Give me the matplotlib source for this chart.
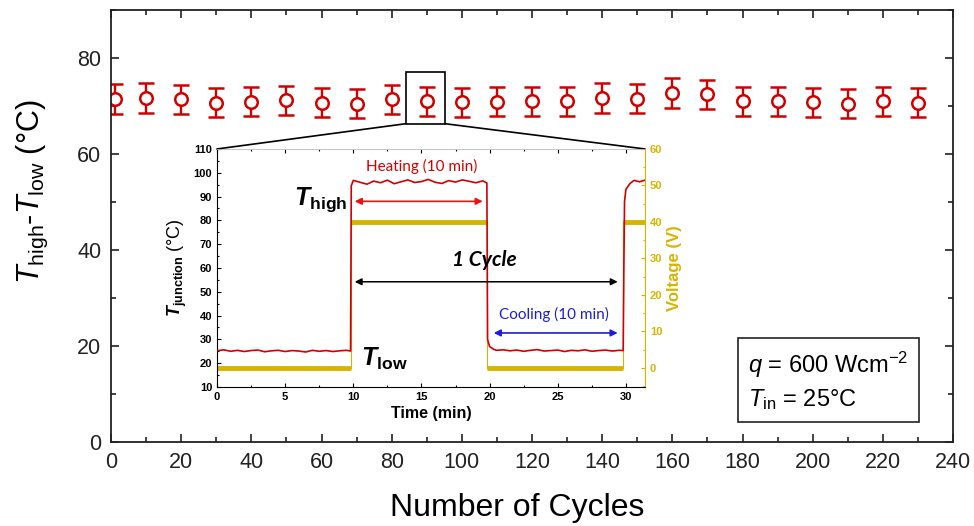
import matplotlib
matplotlib.use("Agg")
import matplotlib.pyplot as plt
from matplotlib.patches import Rectangle, ConnectionPatch
from matplotlib.ticker import MultipleLocator

# Main data: temperature difference vs number of cycles
cycles = [1, 10, 20, 30, 40, 50, 60, 70, 80, 90, 100, 110, 120, 130, 140, 150,
          160, 170, 180, 190, 200, 210, 220, 230]
delta_t = [71.4, 71.7, 71.4, 70.7, 70.9, 71.2, 70.7, 70.5, 71.4, 71.0, 70.8, 70.9,
           71.0, 71.0, 71.6, 71.5, 72.7, 72.4, 71.0, 71.0, 70.8, 70.5, 71.0, 70.7]
delta_t_err = [3.1, 3.1, 3.0, 3.1, 3.0, 3.0, 3.0, 3.1, 3.0, 3.0, 3.0, 3.0,
               3.0, 3.0, 3.1, 3.0, 3.1, 3.1, 3.0, 3.0, 3.0, 3.1, 3.0, 3.0]

# Inset data: junction temperature over one cycle
time_min = [0, 0.5, 1, 1.5, 2, 2.5, 3, 3.5, 4, 4.5, 5, 5.5, 6, 6.5, 7, 7.5, 8, 8.5, 9, 9.5, 9.8,
            9.85, 10, 10.5, 11, 11.5, 12, 12.5, 13, 13.5, 14, 14.5, 15, 15.5, 16, 16.5, 17, 17.5,
            18, 18.5, 19, 19.5, 19.8,
            19.85, 20.0, 20.3, 20.5, 21, 21.5, 22, 22.5, 23, 23.5, 24, 24.5, 25, 25.5, 26, 26.5,
            27, 27.5, 28, 28.5, 29, 29.5, 29.8,
            29.85, 29.9, 30.0, 30.3, 30.6, 31.0, 31.4]
t_junction = [25.2, 25.6, 25.0, 25.4, 24.9, 25.3, 25.5, 24.8, 25.2, 25.4, 24.9, 25.3, 25.1, 24.7,
              25.4, 25.0, 25.3, 24.9, 25.2, 25.4, 25.1,
              94.5, 96.8, 96.0, 95.2, 96.5, 95.8, 96.9, 95.4, 96.2, 97.0, 95.9, 96.3, 97.2, 96.0,
              95.5, 96.7, 96.1, 97.0, 96.4, 95.8, 96.6, 95.7,
              30.0, 27.0, 25.8, 25.4, 25.6, 25.2, 25.5, 25.0, 25.4, 25.7, 25.1, 25.3, 25.5, 24.9,
              25.4, 25.2, 25.6, 25.0, 25.3, 25.5, 25.1, 25.4, 25.3,
              60.0, 88.0, 93.0, 95.5, 96.8, 96.2, 96.9]

# Inset data: applied voltage steps
volt_edges = [0, 9.8, 19.8, 29.8, 31.4]
voltage = [0, 40, 0, 40]

RED = "#d10000"
GOLD = "#d6b400"
BLUE = "#1c1ce0"

plt.rcParams["mathtext.fontset"] = "custom"
plt.rcParams["mathtext.rm"] = "Liberation Sans"
plt.rcParams["mathtext.it"] = "Liberation Sans:italic"
plt.rcParams["mathtext.bf"] = "Liberation Sans:bold"
plt.rcParams["mathtext.sf"] = "Liberation Sans:bold:italic"
plt.rcParams["font.family"] = ["Liberation Sans", "DejaVu Sans"]

fig = plt.figure(figsize=(9.74, 5.26), dpi=100)
ax = fig.add_axes([0.114, 0.160, 0.8645, 0.821])

ax.errorbar(cycles, delta_t, yerr=delta_t_err, fmt="o", color=RED, mfc="white",
            mec=RED, ms=9, mew=1.8, elinewidth=1.7, capsize=5.5, capthick=1.7)

ax.set_xlim(0, 240)
ax.set_ylim(0, 90)
ax.xaxis.set_major_locator(MultipleLocator(20))
ax.xaxis.set_minor_locator(MultipleLocator(10))
ax.yaxis.set_major_locator(MultipleLocator(20))
ax.yaxis.set_minor_locator(MultipleLocator(10))
ax.tick_params(which="both", direction="in", top=True, right=True, width=1.2, colors="#222222")
ax.tick_params(which="major", length=6, labelsize=15.5, pad=7)
ax.tick_params(which="minor", length=3.5)
for sp in ax.spines.values():
    sp.set_linewidth(1.3)
    sp.set_color("#222222")
ax.set_xlabel("Number of Cycles", fontsize=23)
ax.xaxis.set_label_coords(0.482, -0.118)
ax.set_ylabel(r"$\mathit{T}_{\mathrm{high}}$-$\mathit{T}_{\mathrm{low}}$ (°C)", fontsize=22)
ax.yaxis.set_label_coords(-0.072, 0.58)

# zoom box around cycle 90
ax.add_patch(Rectangle((84, 66.3), 11.2, 10.7, fill=False, ec="black", lw=1.2, zorder=5))

# info box
ax.text(0.757, 0.141, "$\\mathit{q}$ = 600 Wcm$^{\\mathrm{-2}}$\n$\\mathit{T}_{\\mathrm{in}}$ = 25°C",
        transform=ax.transAxes, fontsize=17, va="center", ha="left", linespacing=1.35,
        bbox=dict(boxstyle="square,pad=0.45", fc="white", ec="#222222", lw=1.2))

# Inset
axi = fig.add_axes([0.2228, 0.2643, 0.4394, 0.4525])
axi.plot(time_min, t_junction, color=RED, lw=1.2, zorder=3)
axi.set_xlim(0, 31.4)
axi.set_ylim(10, 110)
axi.xaxis.set_major_locator(MultipleLocator(5))
axi.xaxis.set_minor_locator(MultipleLocator(2.5))
axi.yaxis.set_major_locator(MultipleLocator(10))
axi.yaxis.set_minor_locator(MultipleLocator(5))
axi.tick_params(which="both", direction="in", top=True, width=0.8, labelsize=8)
axi.tick_params(which="major", length=3)
axi.tick_params(which="minor", length=1.5)
for lab in axi.get_xticklabels() + axi.get_yticklabels():
    lab.set_fontweight("bold")
axi.spines["top"].set_color("#bbbbbb")
axi.spines["top"].set_linewidth(0.6)
axi.spines["right"].set_visible(False)
axi.set_xlabel("Time (min)", fontsize=11.5, fontweight="bold", labelpad=3)
axi.set_ylabel(r"$\mathsf{T}_{\mathbf{junction}}$ (°C)", fontsize=13, labelpad=3)

axv = axi.twinx()
axv.hlines(voltage, volt_edges[:-1], volt_edges[1:], color=GOLD, lw=3.5, zorder=2)
axv.step(volt_edges[:-1], voltage, where="post", color=GOLD, lw=0.8, zorder=1)
axv.set_ylim(-5.2, 60)
axv.yaxis.set_major_locator(MultipleLocator(10))
axv.yaxis.set_minor_locator(MultipleLocator(5))
axv.tick_params(which="both", direction="in", colors=GOLD, width=0.8, labelsize=8)
axv.tick_params(which="major", length=3)
axv.tick_params(which="minor", length=1.5)
for lab in axv.get_yticklabels():
    lab.set_fontweight("bold")
axv.spines["right"].set_color(GOLD)
axv.spines["top"].set_visible(False)
axv.spines["left"].set_visible(False)
axv.spines["bottom"].set_visible(False)
axv.set_ylabel("Voltage (V)", fontsize=12, fontweight="bold", color=GOLD, labelpad=3)
axi.set_zorder(axv.get_zorder() + 1)
axi.patch.set_visible(False)
axv.patch.set_visible(True)
axv.patch.set_facecolor("white")

# Inset annotations
axi.text(15, 102.5, "Heating (10 min)", color=RED, fontsize=11, ha="center", va="center",
         family=["Lato", "DejaVu Sans"])
axi.annotate("", xy=(9.9, 88), xytext=(19.7, 88),
             arrowprops=dict(arrowstyle="<|-|>", color="#ee1111", lw=1.2, mutation_scale=10))
axi.text(9.6, 88.5, r"$\mathsf{T}_{\mathbf{high}}$", fontsize=18, ha="right", va="center")
axi.text(19.6, 63.5, "1 Cycle", fontsize=15, fontweight="bold", style="italic",
         ha="center", va="center", family=["Lato", "DejaVu Sans"])
axi.annotate("", xy=(9.9, 54.2), xytext=(29.6, 54.2),
             arrowprops=dict(arrowstyle="<|-|>", color="black", lw=1.1, mutation_scale=10))
axi.text(24.7, 40.5, "Cooling (10 min)", color=BLUE, fontsize=11, ha="center", va="center",
         family=["Lato", "DejaVu Sans"])
axi.annotate("", xy=(20.1, 32.7), xytext=(29.6, 32.7),
             arrowprops=dict(arrowstyle="<|-|>", color=BLUE, lw=1.2, mutation_scale=10))
axi.text(10.6, 22, r"$\mathsf{T}_{\mathbf{low}}$", fontsize=18, ha="left", va="center")

# connector lines from zoom box to inset
for x_box, x_in in [(84, 0), (95.2, 1)]:
    con = ConnectionPatch(xyA=(x_box, 66.3), coordsA=ax.transData,
                          xyB=(x_in, 1), coordsB=axi.transAxes,
                          color="black", lw=1.2)
    fig.add_artist(con)

fig.savefig("out.png", dpi=100)
